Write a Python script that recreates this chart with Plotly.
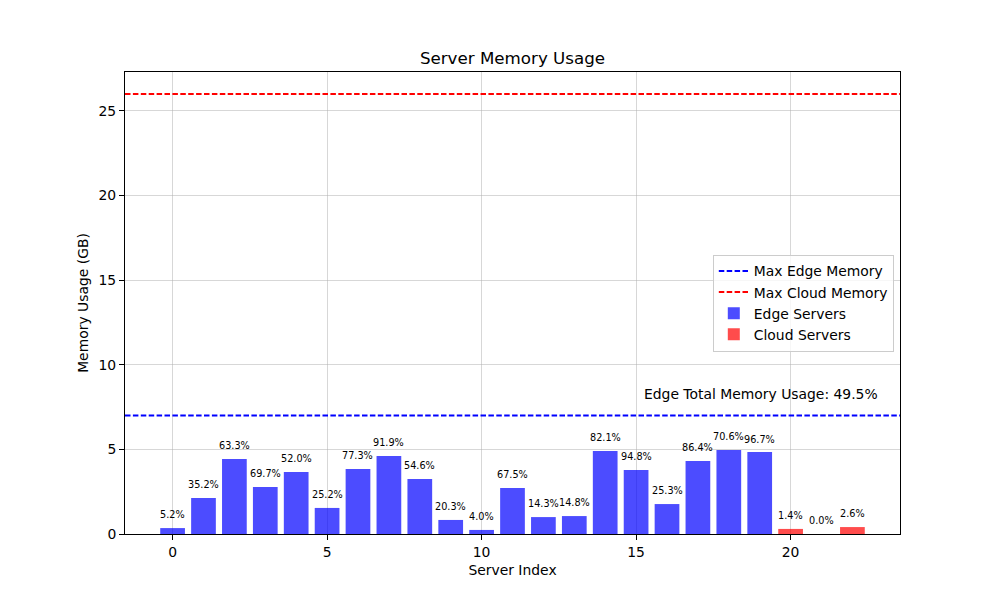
import plotly.graph_objects as go

# ---- data ----
edge_idx = list(range(20))
edge_usage = [0.35, 2.13, 4.43, 2.78, 3.66, 1.54, 3.84, 4.61, 3.25, 0.83,
              0.24, 2.72, 1.00, 1.06, 4.90, 3.78, 1.77, 4.31, 4.96, 4.84]
edge_pct = ["5.2%", "35.2%", "63.3%", "69.7%", "52.0%", "25.2%", "77.3%", "91.9%", "54.6%", "20.3%",
            "4.0%", "67.5%", "14.3%", "14.8%", "82.1%", "94.8%", "25.3%", "86.4%", "70.6%", "96.7%"]
cloud_idx = [20, 21, 22]
cloud_usage = [0.30, 0.0, 0.41]
cloud_pct = ["1.4%", "0.0%", "2.6%"]
max_edge = 7
max_cloud = 26
edge_total_pct = "49.5%"

FONT = "DejaVu Sans"
fig = go.Figure()

fig.add_trace(go.Bar(x=edge_idx, y=edge_usage, width=0.8, name="Edge Servers",
                     marker=dict(color="rgba(0,0,255,0.7)", line=dict(width=0)),
                     legendrank=3))
fig.add_trace(go.Bar(x=cloud_idx, y=cloud_usage, width=0.8, name="Cloud Servers",
                     marker=dict(color="rgba(255,0,0,0.7)", line=dict(width=0)),
                     legendrank=4))

fig.add_shape(type="line", xref="x domain", yref="y", x0=0, x1=1, y0=max_edge, y1=max_edge,
              line=dict(color="blue", width=2, dash="5.5px,2.4px"),
              showlegend=True, name="Max Edge Memory", legendrank=1)
fig.add_shape(type="line", xref="x domain", yref="y", x0=0, x1=1, y0=max_cloud, y1=max_cloud,
              line=dict(color="red", width=2, dash="5.5px,2.4px"),
              showlegend=True, name="Max Cloud Memory", legendrank=2)

for xs, ys, labels in [(edge_idx, edge_usage, edge_pct), (cloud_idx, cloud_usage, cloud_pct)]:
    for x, y, t in zip(xs, ys, labels):
        fig.add_annotation(x=x, y=y + 0.33, text=t, showarrow=False, yanchor="bottom",
                           xanchor="center", font=dict(family=FONT, size=9.7, color="black"))

fig.add_annotation(x=19.05, y=max_edge + 0.7, text=f"Edge Total Memory Usage: {edge_total_pct}",
                   showarrow=False, yanchor="bottom", xanchor="center",
                   font=dict(family=FONT, size=13.9, color="black"))

axis_common = dict(showline=True, linecolor="black", linewidth=1, mirror=True,
                   ticks="outside", ticklen=5, tickcolor="black",
                   showgrid=True, gridcolor="rgba(176,176,176,0.5)", gridwidth=1,
                   zeroline=False, tickfont=dict(family=FONT, size=13.9, color="black"),
                   title_font=dict(family=FONT, size=13.9, color="black"))

fig.update_xaxes(range=[-1.54, 23.54], tickvals=[0, 5, 10, 15, 20],
                 title_text="Server Index", title_standoff=6, **axis_common)
fig.update_yaxes(range=[0, 27.3], tickvals=[0, 5, 10, 15, 20, 25],
                 title_text="Memory Usage (GB)", title_standoff=6, **axis_common)

fig.update_layout(
    width=1000, height=600,
    margin=dict(l=125, r=100, t=72, b=66),
    paper_bgcolor="white", plot_bgcolor="white",
    title=dict(text="Server Memory Usage", x=0.5125, xanchor="center", y=0.903, yanchor="middle",
               font=dict(family=FONT, size=16.7, color="black")),
    barmode="overlay",
    legend=dict(x=0.992, xanchor="right", y=0.5, yanchor="middle",
                bgcolor="rgba(255,255,255,0.8)", bordercolor="#cccccc", borderwidth=1,
                font=dict(family=FONT, size=13.9, color="black"),
                traceorder="normal"),
    showlegend=True,
)

fig.write_html("out.html")
